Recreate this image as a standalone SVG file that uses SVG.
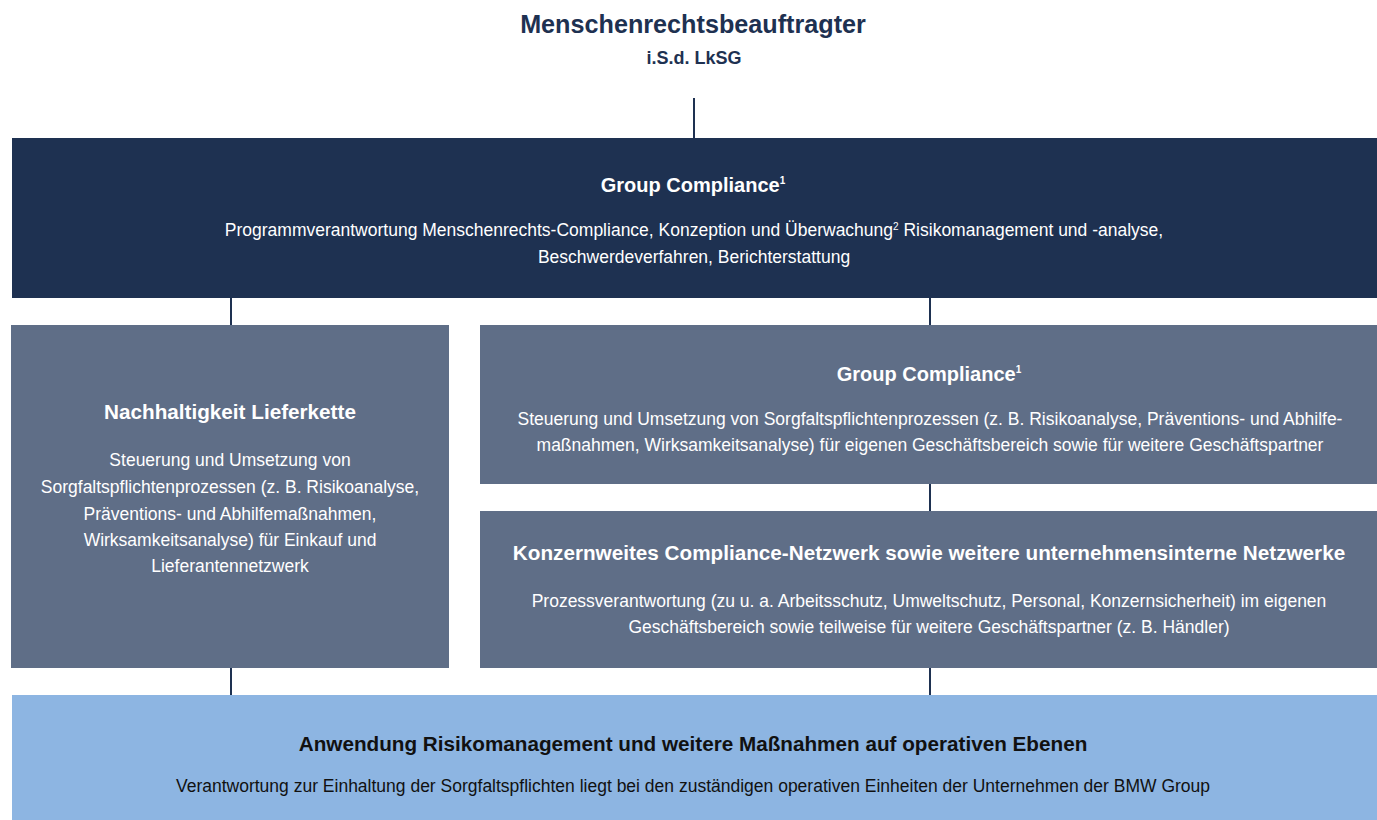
<svg xmlns="http://www.w3.org/2000/svg" width="1377" height="820" viewBox="0 0 1377 820">
<style>
text{font-family:"Liberation Sans",Arial,sans-serif;text-anchor:middle}
.h{font-weight:bold;font-size:20.7px;fill:#fff}
.gc{font-size:20px}
.b{font-size:17.5px;fill:#fff}
.dark{fill:#1e3151}
.mid{fill:#5f6e87}
.light{fill:#8db5e2}
.k{fill:#111}
.sup{font-size:10px}
.conn{stroke:#1e3151;stroke-width:2;fill:none}
</style>
<rect width="1377" height="820" fill="#fff"/>
<g id="connectors">
<line class="conn" x1="694" y1="98" x2="694" y2="138"/>
<line class="conn" x1="231" y1="298" x2="231" y2="325"/>
<line class="conn" x1="930" y1="298" x2="930" y2="325"/>
<line class="conn" x1="930" y1="484" x2="930" y2="511"/>
<line class="conn" x1="231" y1="668" x2="231" y2="695"/>
<line class="conn" x1="930" y1="668" x2="930" y2="695"/>
</g>
<g id="officer">
<text x="693" y="33" style="font-weight:bold;font-size:25.2px;fill:#1e3151">Menschenrechtsbeauftragter</text>
<text x="694" y="64" style="font-weight:bold;font-size:18px;fill:#1e3151">i.S.d. LkSG</text>
</g>
<g id="group-compliance-top">
<rect class="dark" x="12" y="138" width="1365" height="160"/>
<text class="h gc" x="693" y="192">Group Compliance<tspan class="sup" dy="-8">1</tspan></text>
<text class="b" x="694" y="236">Programmverantwortung Menschenrechts-Compliance, Konzeption und Überwachung<tspan class="sup" dy="-6">2</tspan><tspan dy="6"> Risikomanagement und -analyse,</tspan></text>
<text class="b" x="694" y="263">Beschwerdeverfahren, Berichterstattung</text>
</g>
<g id="nachhaltigkeit">
<rect class="mid" x="11" y="325" width="438" height="343"/>
<text class="h" x="230" y="419">Nachhaltigkeit Lieferkette</text>
<text class="b" x="230" y="466">Steuerung und Umsetzung von</text>
<text class="b" x="230" y="493">Sorgfaltspflichtenprozessen (z. B. Risikoanalyse,</text>
<text class="b" x="230" y="520">Präventions- und Abhilfemaßnahmen,</text>
<text class="b" x="230" y="546">Wirksamkeitsanalyse) für Einkauf und</text>
<text class="b" x="230" y="572">Lieferantennetzwerk</text>
</g>
<g id="group-compliance-right">
<rect class="mid" x="480" y="325" width="897" height="159"/>
<text class="h gc" x="929" y="381">Group Compliance<tspan class="sup" dy="-8">1</tspan></text>
<text class="b" x="930" y="425">Steuerung und Umsetzung von Sorgfaltspflichtenprozessen (z. B. Risikoanalyse, Präventions- und Abhilfe-</text>
<text class="b" x="930" y="451">maßnahmen, Wirksamkeitsanalyse) für eigenen Geschäftsbereich sowie für weitere Geschäftspartner</text>
</g>
<g id="netzwerk">
<rect class="mid" x="480" y="511" width="897" height="157"/>
<text class="h" x="929" y="560">Konzernweites Compliance-Netzwerk sowie weitere unternehmensinterne Netzwerke</text>
<text class="b" x="929" y="607">Prozessverantwortung (zu u. a. Arbeitsschutz, Umweltschutz, Personal, Konzernsicherheit) im eigenen</text>
<text class="b" x="929" y="633">Geschäftsbereich sowie teilweise für weitere Geschäftspartner (z. B. Händler)</text>
</g>
<g id="operativ">
<rect class="light" x="12" y="695" width="1365" height="125"/>
<text class="h k" x="693" y="751">Anwendung Risikomanagement und weitere Maßnahmen auf operativen Ebenen</text>
<text class="b k" x="693" y="792">Verantwortung zur Einhaltung der Sorgfaltspflichten liegt bei den zuständigen operativen Einheiten der Unternehmen der BMW Group</text>
</g>
</svg>
